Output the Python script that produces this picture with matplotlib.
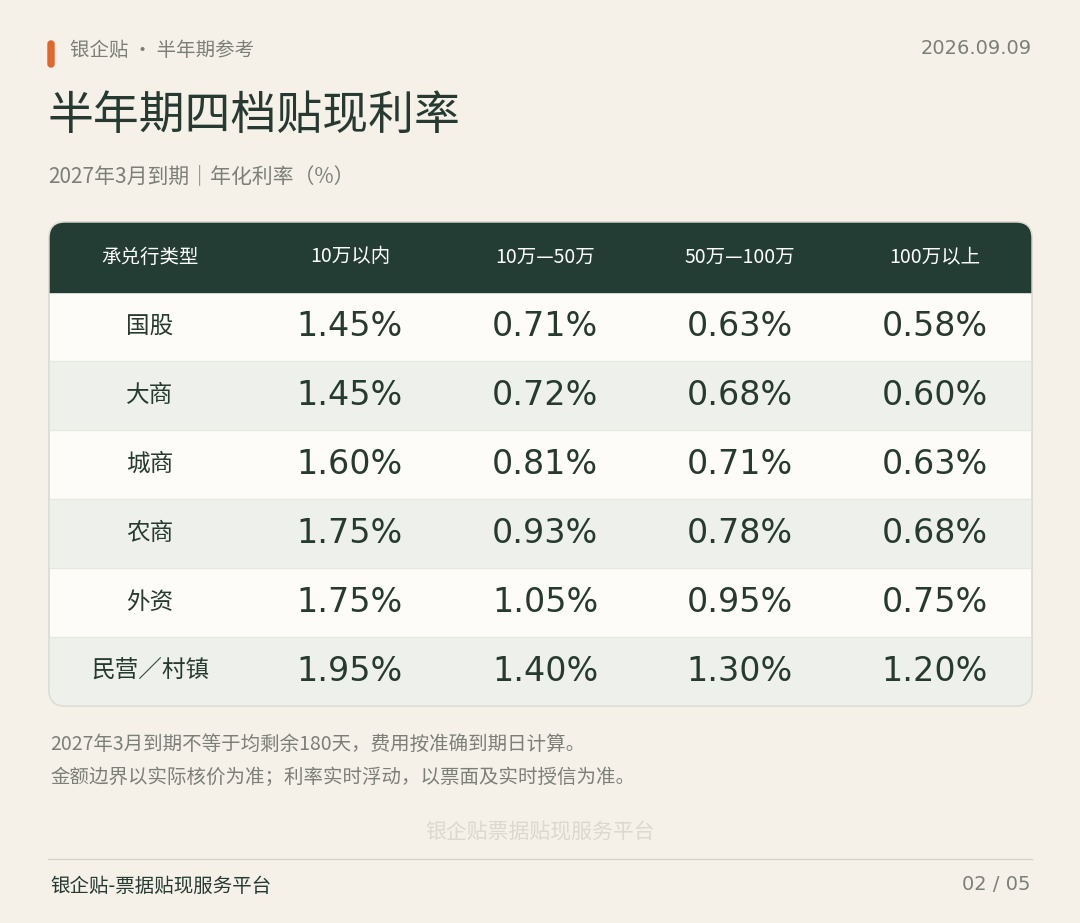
import matplotlib
matplotlib.use("Agg")
import matplotlib.pyplot as plt
from matplotlib.patches import FancyBboxPatch, Rectangle

plt.rcParams['font.family'] = ['Noto Sans CJK SC', 'DejaVu Sans']

columns = ["承兑行类型", "10万以内", "10万—50万", "50万—100万", "100万以上"]
banks = ["国股", "大商", "城商", "农商", "外资", "民营／村镇"]
r_lt10 = [1.45, 1.45, 1.60, 1.75, 1.75, 1.95]
r_10_50 = [0.71, 0.72, 0.81, 0.93, 1.05, 1.40]
r_50_100 = [0.63, 0.68, 0.71, 0.78, 0.95, 1.30]
r_gt100 = [0.58, 0.60, 0.63, 0.68, 0.75, 1.20]

BG = "#f5f1e8"; DARK = "#243d34"; TXT = "#263a32"; GRAY = "#7b7f78"

fig = plt.figure(figsize=(10.8, 9.23), dpi=100, facecolor=BG)
ax = fig.add_axes([0, 0, 1, 1]); ax.set_xlim(0, 1080); ax.set_ylim(923, 0); ax.axis('off')

ax.add_patch(FancyBboxPatch((48, 41), 6, 26, boxstyle="round,pad=0,rounding_size=3", color="#e0662e"))
ax.text(70, 50, "银企贴 · 半年期参考", fontsize=14, color=GRAY, va='center')
ax.text(1032, 48, "2026.09.09", fontsize=14, color=GRAY, va='center', ha='right', family=['DejaVu Sans'])
ax.text(48, 116, "半年期四档贴现利率", fontsize=33, color=TXT, va='center')
ax.text(48, 176, "2027年3月到期｜年化利率（%）", fontsize=15, color=GRAY, va='center')

x0, x1, ytop, hh, rh = 49, 1032, 222, 70, 69.0
ybot = ytop + hh + rh * len(banks)
clip = FancyBboxPatch((x0, ytop), x1 - x0, ybot - ytop, boxstyle="round,pad=0,rounding_size=16",
                      facecolor="#fdfcf8", edgecolor="#dcdcd4", lw=1, zorder=1)
ax.add_patch(clip)
hdr = Rectangle((x0, ytop), x1 - x0, hh, color=DARK, zorder=2); ax.add_patch(hdr); hdr.set_clip_path(clip)
cx = [150, 350, 545, 740, 935]
for c, t in zip(cx, columns):
    ax.text(c, ytop + hh / 2, t, fontsize=14, color="white", ha='center', va='center', zorder=3)
cols = [r_lt10, r_10_50, r_50_100, r_gt100]
for i, b in enumerate(banks):
    y = ytop + hh + i * rh
    if i % 2 == 1:
        r = Rectangle((x0, y), x1 - x0, rh, color="#eef1eb", zorder=2); ax.add_patch(r); r.set_clip_path(clip)
    if i > 0:
        ax.plot([x0, x1], [y, y], color="#e6e8e2", lw=0.8, zorder=2)
    ax.text(cx[0], y + rh / 2, b, fontsize=17, color=TXT, ha='center', va='center', zorder=3)
    for j, col in enumerate(cols):
        ax.text(cx[j + 1], y + rh / 2, f"{col[i]:.2f}%", fontsize=24, color=TXT, ha='center', va='center',
                zorder=3, family=['DejaVu Sans'])
ax.add_patch(FancyBboxPatch((x0, ytop), x1 - x0, ybot - ytop, boxstyle="round,pad=0,rounding_size=16",
                            facecolor='none', edgecolor="#dcdcd4", lw=1, zorder=4))

ax.text(50, 744, "2027年3月到期不等于均剩余180天，费用按准确到期日计算。", fontsize=14, color=GRAY, va='center')
ax.text(50, 777, "金额边界以实际核价为准；利率实时浮动，以票面及实时授信为准。", fontsize=14, color=GRAY, va='center')
ax.text(540, 832, "银企贴票据贴现服务平台", fontsize=15, color="#dcd8ce", ha='center', va='center')
ax.plot([48, 1032], [859, 859], color="#d6d3ca", lw=1)
ax.text(50, 886, "银企贴-票据贴现服务平台", fontsize=14, color=TXT, va='center')
ax.text(1030, 885, "02 / 05", fontsize=14, color=GRAY, ha='right', va='center', family=['DejaVu Sans'])

fig.savefig("out.png", dpi=100, facecolor=BG)
